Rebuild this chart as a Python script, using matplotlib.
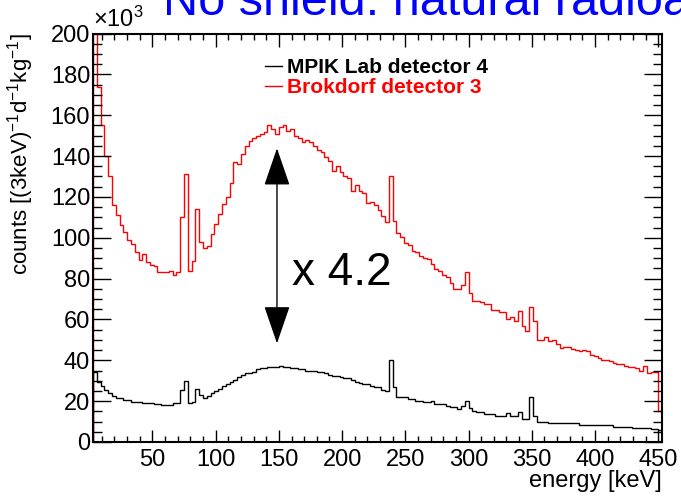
import numpy as np
import matplotlib
matplotlib.use("Agg")
from matplotlib import pyplot as plt
from matplotlib.ticker import MultipleLocator

plt.rcParams['font.family'] = ['Liberation Sans', 'DejaVu Sans']
plt.rcParams['mathtext.fontset'] = 'custom'
plt.rcParams['mathtext.rm'] = 'Liberation Sans'
plt.rcParams['mathtext.it'] = 'Liberation Sans:italic'

# energy binning: 3 keV bins from 3 to 453 keV
bin_width = 3
e_min, e_max = 3, 453
bin_edges = np.arange(e_min, e_max + bin_width, bin_width)

# counts per bin, in units of 1e3
mpik_lab = [
    34.2, 29.6, 27.2, 25.6, 23.9, 22.3, 21.5, 21.5, 20.6, 20.6,
    19.8, 19.8, 19.8, 19.3, 19.3, 19.3, 18.7, 18.7, 18.0, 18.0,
    18.0, 19.0, 19.0, 25.6, 30.1, 19.3, 19.8, 25.9, 23.1, 21.5,
    22.6, 23.9, 25.1, 26.0, 27.2, 28.3, 29.3, 30.5, 31.6, 32.9,
    33.7, 33.7, 34.5, 35.7, 36.2, 36.2, 36.7, 36.7, 36.7, 37.3,
    36.9, 36.7, 36.2, 36.2, 35.7, 35.7, 35.0, 35.0, 35.0, 34.1,
    34.5, 33.7, 32.9, 32.4, 32.4, 31.8, 31.3, 31.3, 30.5, 29.6,
    29.1, 28.3, 28.3, 27.5, 27.1, 26.7, 25.6, 25.1, 40.3, 26.7,
    21.8, 21.8, 21.8, 21.1, 21.1, 20.3, 20.3, 19.5, 19.5, 20.1,
    18.7, 18.7, 18.7, 17.4, 16.9, 16.9, 16.4, 17.8, 20.1, 16.6,
    15.2, 14.7, 14.6, 13.8, 13.8, 13.8, 12.9, 12.9, 12.9, 14.1,
    12.8, 12.8, 14.9, 11.1, 11.1, 22.0, 12.8, 10.0, 10.0, 10.0,
    9.2, 9.2, 9.2, 9.2, 9.2, 9.2, 9.2, 9.2, 8.4, 8.4,
    8.4, 8.4, 8.4, 8.4, 8.4, 8.4, 8.4, 7.2, 7.2, 7.2,
    7.2, 7.2, 6.7, 6.7, 6.7, 6.7, 6.7, 6.2, 6.2, 6.0,
]

brokdorf = [
    240.0, 174.0, 155.0, 140.0, 130.0, 116.0, 111.0, 106.0, 103.0, 99.0,
    97.0, 93.0, 89.0, 92.0, 88.0, 86.5, 86.0, 83.0, 83.0, 83.0,
    83.5, 82.0, 83.0, 110.0, 131.0, 83.5, 88.5, 114.0, 98.0, 95.0,
    96.0, 102.0, 106.5, 111.5, 116.5, 120.0, 127.0, 137.0, 136.0, 141.0,
    145.0, 147.5, 149.0, 150.0, 151.0, 152.0, 155.0, 153.0, 151.0, 154.0,
    155.0, 152.5, 153.0, 150.0, 148.7, 147.0, 148.0, 146.8, 145.0, 143.0,
    141.9, 139.4, 137.8, 132.8, 135.3, 132.0, 130.4, 129.2, 123.0, 125.8,
    123.0, 121.7, 117.0, 117.3, 116.0, 113.5, 110.7, 107.8, 130.0, 108.3,
    102.5, 100.6, 97.6, 96.5, 93.5, 93.0, 91.0, 90.0, 89.4, 87.0,
    84.8, 83.8, 81.7, 81.0, 78.0, 75.0, 75.0, 77.0, 83.0, 73.0,
    69.0, 69.0, 68.5, 67.7, 67.7, 64.5, 64.5, 63.5, 63.5, 60.0,
    61.3, 59.1, 64.0, 57.0, 54.5, 66.2, 59.1, 50.1, 50.1, 51.4,
    49.3, 50.1, 48.2, 46.0, 46.5, 46.5, 45.7, 44.9, 44.4, 45.2,
    44.4, 42.8, 42.3, 41.1, 40.3, 40.3, 39.5, 38.6, 38.3, 38.3,
    37.0, 36.7, 36.7, 36.2, 35.0, 37.0, 34.0, 34.4, 34.5, 15.4,
]

labels = ['MPIK Lab detector 4', 'Brokdorf detector 3']
colors = ['black', '#ff0000']

# ratio arrow between the two continua at the bump maximum
arrow_energy = 148.5
arrow_low, arrow_high = 48.3, 143.8
ratio_text = 'x 4.2'

fig = plt.figure(figsize=(6.81, 4.96), dpi=100)
ax = fig.add_axes([93 / 681, 1 - 442 / 496, 569 / 681, 408.5 / 496])

ax.stairs(mpik_lab, bin_edges, color=colors[0], lw=1.0, label=labels[0])
ax.stairs(brokdorf, bin_edges, color=colors[1], lw=1.0, label=labels[1])

ax.set_xlim(e_min, e_max)
ax.set_ylim(0, 200)

# ROOT-like frame: ticks inside on all four sides
ax.xaxis.set_major_locator(MultipleLocator(50))
ax.xaxis.set_minor_locator(MultipleLocator(10))
ax.yaxis.set_major_locator(MultipleLocator(20))
ax.yaxis.set_minor_locator(MultipleLocator(5))
ax.tick_params(axis='x', which='both', direction='in', top=True,
               labelsize=17, pad=5, width=1.0)
ax.tick_params(axis='x', which='major', length=9)
ax.tick_params(axis='x', which='minor', length=4.5)
ax.tick_params(axis='y', which='both', direction='in', right=True,
               labelsize=17, pad=2, width=1.0)
ax.tick_params(axis='y', which='major', length=13)
ax.tick_params(axis='y', which='minor', length=6.5)
ax.set_xticks([50, 100, 150, 200, 250, 300, 350, 400, 450])
for sp in ax.spines.values():
    sp.set_linewidth(1.5)

ax.set_xlabel('energy [keV]', fontsize=17, loc='right')
ax.xaxis.set_label_coords(1.0, -0.068)
ax.xaxis.label.set_va('top')
ax.set_ylabel(r'counts [(3keV)$^{\mathregular{-1}}$d$^{\mathregular{-1}}$kg$^{\mathregular{-1}}$]',
              fontsize=16, loc='top')
ax.yaxis.set_label_coords(-0.1, 1.0)

ax.text(0.0, 1.005, r'$\times$10$^{\mathregular{3}}$', transform=ax.transAxes,
        fontsize=17, ha='left', va='bottom')

ax.annotate('', xy=(arrow_energy, arrow_low), xytext=(arrow_energy, arrow_high),
            arrowprops=dict(arrowstyle='<|-|>,head_length=1.6,head_width=0.55',
                            mutation_scale=15, color='black', lw=1.0,
                            shrinkA=0, shrinkB=0))
ax.text(160.5, 76.9, ratio_text, fontsize=33, ha='left', va='baseline')

leg = ax.legend(loc='upper left', bbox_to_anchor=(0.302, 0.94), frameon=False,
                prop={'weight': 'bold', 'size': 15}, handlelength=0.8,
                handletextpad=0.25, labelspacing=0.05, borderpad=0,
                borderaxespad=0)
for txt, c in zip(leg.get_texts(), colors):
    txt.set_color(c)

fig.text(163 / 681, 1 - 15 / 496, 'No shield: natural radioactivity',
         color='#0000ff', fontsize=35, ha='left', va='baseline')

fig.savefig('out.png', dpi=100)
